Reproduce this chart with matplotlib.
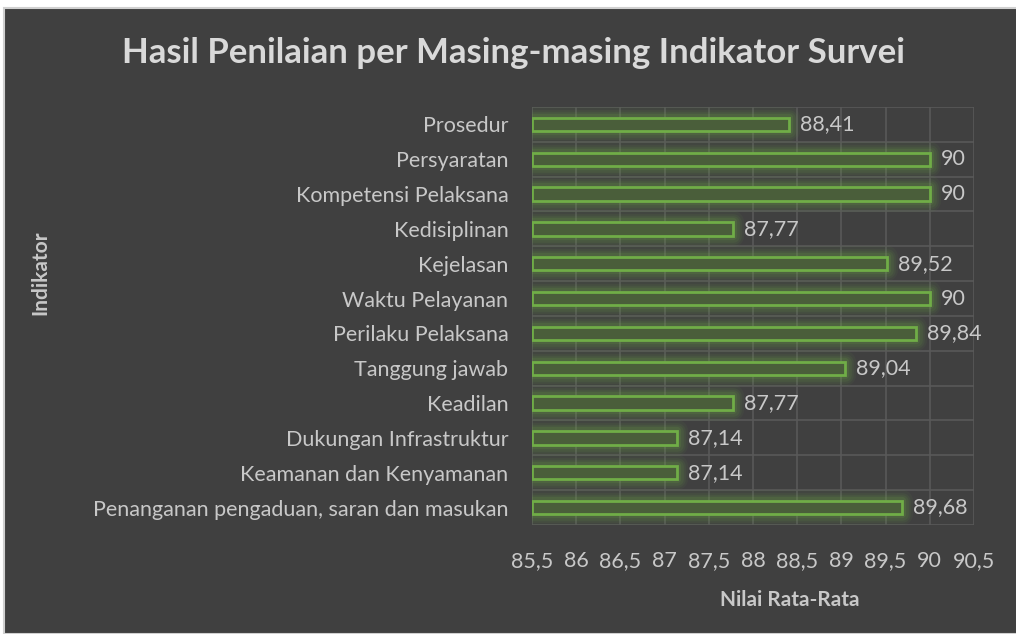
import matplotlib
matplotlib.use("Agg")
import matplotlib.pyplot as plt
from matplotlib.patches import Rectangle

plt.rcParams['font.family'] = ['Lato', 'DejaVu Sans']

indikator = ['Prosedur', 'Persyaratan', 'Kompetensi Pelaksana', 'Kedisiplinan',
             'Kejelasan', 'Waktu Pelayanan', 'Perilaku Pelaksana', 'Tanggung jawab',
             'Keadilan', 'Dukungan Infrastruktur', 'Keamanan dan Kenyamanan',
             'Penanganan pengaduan, saran dan masukan']
nilai = [88.41, 90, 90, 87.77, 89.52, 90, 89.84, 89.04, 87.77, 87.14, 87.14, 89.68]
ticks = [85.5, 86, 86.5, 87, 87.5, 88, 88.5, 89, 89.5, 90, 90.5]

bg = '#404040'
txt = '#c8c8c8'

fig = plt.figure(figsize=(10.16, 6.34), dpi=100, facecolor='white')
# chart area panel
fig.patches.append(Rectangle((4 / 1016, 0), 1.0, 626 / 634, transform=fig.transFigure,
                             facecolor=bg, edgecolor='#d0d0d0', linewidth=1.5, zorder=-5))

ax = fig.add_axes([532 / 1016, 1 - 525 / 634, 442 / 1016, 418 / 634])
ax.set_zorder(2)
ax.patch.set_alpha(0)

y = list(range(len(indikator)))
ax.set_xlim(85.5, 90.5)
ax.set_ylim(len(indikator) - 0.5, -0.5)

# grid
for t in ticks:
    ax.axvline(t, color='#595959', lw=1.2, zorder=1)
for k in range(len(indikator) + 1):
    ax.axhline(k - 0.5, color='#595959', lw=1.2, zorder=1)

left = 85.5
w = [v - left for v in nilai]
# glow
for lw, a in [(16, 0.06), (12, 0.08), (9, 0.1), (6, 0.14)]:
    ax.barh(y, w, left=left, height=0.38, facecolor='none', edgecolor='#70ad47',
            linewidth=lw, alpha=a, zorder=2, joinstyle='round')
ax.barh(y, w, left=left, height=0.38, facecolor='#4a5e3a', edgecolor='#70ad47',
        linewidth=2, zorder=3)

for yi, v in zip(y, nilai):
    s = ('%g' % v).replace('.', ',')
    ax.annotate(s, (v, yi), xytext=(8, 0), textcoords='offset points',
                va='center', ha='left', color=txt, fontsize=15.5, zorder=4)

ax.set_yticks(y)
ax.set_yticklabels(indikator)
ax.set_xticks(ticks)
ax.set_xticklabels([('%g' % t).replace('.', ',') for t in ticks])
ax.tick_params(axis='both', colors=txt, labelsize=15.5, length=0)
ax.tick_params(axis='y', pad=17)
ax.tick_params(axis='x', pad=19)
for sp in ax.spines.values():
    sp.set_visible(False)

fig.text(514 / 1016, 1 - 53 / 634, 'Hasil Penilaian per Masing-masing Indikator Survei',
         ha='center', va='center', fontsize=25, fontweight='bold', color='#d9d9d9')
fig.text(790 / 1016, 1 - 600 / 634, 'Nilai Rata-Rata', ha='center', va='center',
         fontsize=15, fontweight='bold', color=txt)
fig.text(40 / 1016, 1 - 273 / 634, 'Indikator', ha='center', va='center',
         rotation=90, fontsize=15, fontweight='bold', color=txt)

fig.savefig('out.png', dpi=100, facecolor='white')
